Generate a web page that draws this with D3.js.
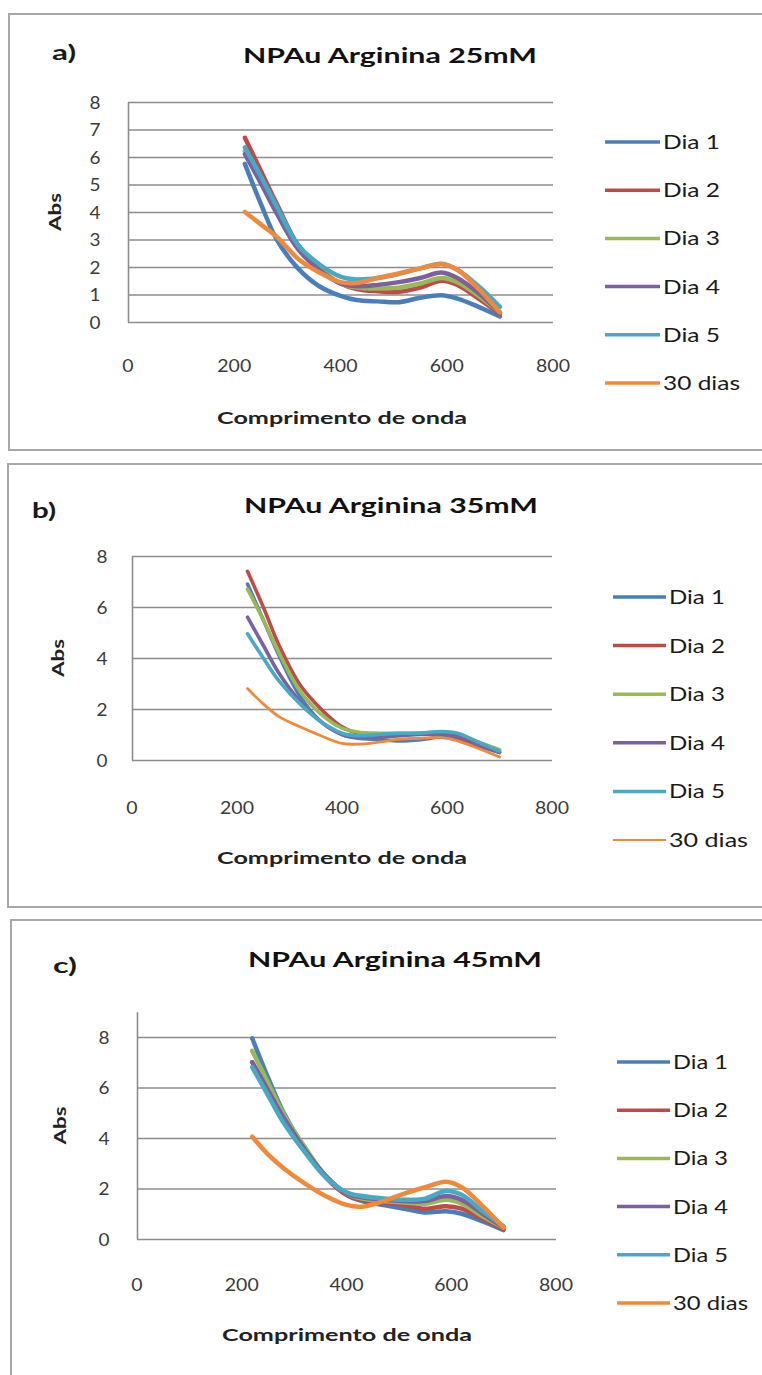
<!DOCTYPE html>
<html>
<head>
<meta charset="utf-8">
<script src="https://cdn.jsdelivr.net/npm/d3@7"></script>
<style>
  body{margin:0;background:#fff;}
  svg{display:block;}
  text{font-family:Lato,"Open Sans",sans-serif;}
</style>
</head>
<body>
<div id="container"></div>
<script>
let w = 762;
let h = 1375;

// shared x values (wavelength, nm) and names
let wavelengths = [220, 250, 280, 320, 360, 400, 430, 470, 510, 550, 590, 620, 660, 700];
let seriesNames = ["Dia 1", "Dia 2", "Dia 3", "Dia 4", "Dia 5", "30 dias"];
let seriesColors = ["#4a7ebb", "#be4b48", "#98b954", "#7d60a0", "#46aac5", "#f08a3a"];
let xTicks = [0, 200, 400, 600, 800];

// a) 25mM
let a_dia1 = [5.75, 4.3, 3.0, 1.95, 1.3, 0.95, 0.8, 0.75, 0.72, 0.88, 0.97, 0.85, 0.55, 0.2];
let a_dia2 = [6.7, 5.5, 4.3, 2.8, 1.95, 1.4, 1.2, 1.12, 1.1, 1.25, 1.5, 1.35, 0.85, 0.3];
let a_dia3 = [6.2, 5.15, 4.05, 2.7, 1.95, 1.4, 1.25, 1.22, 1.25, 1.4, 1.6, 1.45, 0.95, 0.35];
let a_dia4 = [6.1, 5.05, 3.95, 2.65, 1.9, 1.4, 1.3, 1.35, 1.45, 1.6, 1.8, 1.6, 1.05, 0.35];
let a_dia5 = [6.35, 5.3, 4.2, 2.8, 2.1, 1.65, 1.55, 1.6, 1.75, 1.95, 2.12, 1.9, 1.3, 0.55];
let a_dias30 = [4.0, 3.55, 3.1, 2.3, 1.8, 1.45, 1.42, 1.6, 1.77, 1.95, 2.1, 1.9, 1.2, 0.35];

// b) 35mM
let b_dia1 = [6.9, 5.5, 4.1, 2.5, 1.5, 1.0, 0.85, 0.8, 0.75, 0.8, 0.9, 0.85, 0.55, 0.3];
let b_dia2 = [7.4, 6.0, 4.5, 2.95, 2.0, 1.3, 1.05, 1.0, 1.0, 1.05, 1.05, 0.9, 0.6, 0.3];
let b_dia3 = [6.7, 5.5, 4.2, 2.7, 1.8, 1.25, 1.1, 1.05, 1.05, 1.05, 1.1, 1.0, 0.7, 0.4];
let b_dia4 = [5.6, 4.5, 3.4, 2.3, 1.5, 1.0, 0.9, 0.9, 0.95, 1.0, 1.0, 0.95, 0.6, 0.3];
let b_dia5 = [4.95, 4.0, 3.1, 2.2, 1.5, 1.05, 0.95, 1.0, 1.05, 1.05, 1.12, 1.05, 0.7, 0.35];
let b_dias30 = [2.8, 2.2, 1.7, 1.3, 0.95, 0.65, 0.62, 0.7, 0.82, 0.85, 0.88, 0.75, 0.45, 0.12];

// c) 45mM
let c_dia1 = [7.95, 6.4, 5.0, 3.6, 2.5, 1.75, 1.5, 1.35, 1.2, 1.05, 1.1, 1.0, 0.7, 0.35];
let c_dia2 = [7.0, 5.9, 4.8, 3.55, 2.45, 1.75, 1.55, 1.45, 1.35, 1.2, 1.3, 1.2, 0.8, 0.4];
let c_dia3 = [7.45, 6.2, 4.95, 3.65, 2.5, 1.8, 1.6, 1.5, 1.45, 1.4, 1.55, 1.4, 0.9, 0.45];
let c_dia4 = [7.0, 5.9, 4.8, 3.55, 2.5, 1.8, 1.65, 1.55, 1.5, 1.5, 1.7, 1.55, 1.0, 0.45];
let c_dia5 = [6.8, 5.7, 4.6, 3.45, 2.45, 1.85, 1.7, 1.6, 1.55, 1.6, 1.9, 1.75, 1.1, 0.5];
let c_dias30 = [4.05, 3.35, 2.8, 2.2, 1.7, 1.35, 1.28, 1.5, 1.8, 2.05, 2.27, 2.05, 1.3, 0.45];

// layout for each panel (pixels)
let panels = [
  {label: "a)", title: "NPAu Arginina 25mM", series: [a_dia1, a_dia2, a_dia3, a_dia4, a_dia5, a_dias30],
   box: [9, 14, 790, 436], left: 128, right: 553, bottom: 322, unit: 27.5, yMax: 8, yStep: 1,
   labelX: 52, labelY: 60, titleX: 390, titleY: 63, yTickX: 95, xTickY: 372,
   xTitleX: 342, xTitleY: 424, absX: 55, legX: 605, legLen: 55, legY: 142, legDy: 48.2,
   legW: [57, 57, 57, 57, 57, 77], lw: 4.5, lw30: 4.5, legLw: 3.5, legLw30: 3.5},
  {label: "b)", title: "NPAu Arginina 35mM", series: [b_dia1, b_dia2, b_dia3, b_dia4, b_dia5, b_dias30],
   box: [8, 464, 790, 443], left: 132, right: 552, bottom: 760, unit: 25.5, yMax: 8, yStep: 2,
   labelX: 32, labelY: 518, titleX: 391, titleY: 513, yTickX: 102, xTickY: 814,
   xTitleX: 342, xTitleY: 864, absX: 58, legX: 613, legLen: 53, legY: 597, legDy: 48.6,
   legW: [56, 56, 56, 56, 56, 79], lw: 3.6, lw30: 2.8, legLw: 3.5, legLw30: 1.8},
  {label: "c)", title: "NPAu Arginina 45mM", series: [c_dia1, c_dia2, c_dia3, c_dia4, c_dia5, c_dias30],
   box: [11, 920, 790, 500], left: 137, right: 556, bottom: 1239, unit: 25.25, yMax: 9, yStep: 2,
   labelX: 53, labelY: 973, titleX: 395, titleY: 967, yTickX: 104, xTickY: 1291,
   xTitleX: 347, xTitleY: 1341, absX: 60, legX: 617, legLen: 53, legY: 1062, legDy: 48.2,
   legW: [55, 55, 55, 55, 55, 75], lw: 4.5, lw30: 4.5, legLw: 3.5, legLw30: 3.5}
];

let viz = d3.select("#container")
  .append("svg")
    .attr("width", w)
    .attr("height", h)
;

panels.forEach(function(p){
  let g = viz.append("g").classed("panel", true);

  // outer frame
  g.append("rect")
    .attr("x", p.box[0]).attr("y", p.box[1])
    .attr("width", p.box[2]).attr("height", p.box[3])
    .attr("fill", "none").attr("stroke", "#a8a8a8").attr("stroke-width", 2);

  let top = p.bottom - p.yMax * p.unit;
  let xScale = d3.scaleLinear().domain([0, 800]).range([p.left, p.right]);
  let yScale = d3.scaleLinear().domain([0, p.yMax]).range([p.bottom, top]);

  // gridlines + vertical axis
  let yAxis = d3.axisLeft(yScale)
    .tickValues(d3.range(0, p.yMax + 0.001, p.yStep))
    .tickSize(-(p.right - p.left))
    .tickSizeOuter(0)
    .tickFormat("");
  let yAxisGroup = g.append("g").attr("transform", "translate(" + p.left + ",0)").call(yAxis);
  yAxisGroup.selectAll("line").attr("stroke", "#8c8c8c").attr("stroke-width", 1.6);
  yAxisGroup.select(".domain").attr("stroke", "#8c8c8c").attr("stroke-width", 1.6);

  // y tick labels
  g.selectAll(".ytick").data(d3.range(0, p.yMax + 0.001, p.yStep)).enter()
    .append("text").classed("ytick", true)
    .attr("x", p.yTickX)
    .attr("y", d => yScale(d) + 6.5)
    .attr("text-anchor", "middle")
    .attr("font-size", 18)
    .attr("fill", "#3a3a3a")
    .attr("textLength", 11)
    .attr("lengthAdjust", "spacingAndGlyphs")
    .text(d => d);

  // x tick labels
  g.selectAll(".xtick").data(xTicks).enter()
    .append("text").classed("xtick", true)
    .attr("x", d => xScale(d))
    .attr("y", p.xTickY)
    .attr("text-anchor", "middle")
    .attr("font-size", 18)
    .attr("fill", "#3a3a3a")
    .attr("textLength", d => String(d).length * 11.3)
    .attr("lengthAdjust", "spacingAndGlyphs")
    .text(d => d);

  // lines
  let line = d3.line()
    .x(d => xScale(d[0]))
    .y(d => yScale(d[1]))
    .curve(d3.curveCatmullRom.alpha(0.5));

  p.series.forEach(function(vals, i){
    g.append("path")
      .datum(wavelengths.map((wl, j) => [wl, vals[j]]))
      .attr("d", line)
      .attr("fill", "none")
      .attr("stroke", seriesColors[i])
      .attr("stroke-width", i == 5 ? p.lw30 : p.lw)
      .attr("stroke-linecap", "round")
      .attr("stroke-linejoin", "round");
  });

  // texts
  g.append("text")
    .attr("x", p.labelX).attr("y", p.labelY)
    .attr("font-size", 20).attr("font-weight", "bold").attr("fill", "#1a1a1a")
    .attr("textLength", 24).attr("lengthAdjust", "spacingAndGlyphs")
    .text(p.label);

  g.append("text")
    .attr("x", p.titleX).attr("y", p.titleY)
    .attr("text-anchor", "middle")
    .attr("font-size", 21).attr("font-weight", "bold").attr("fill", "#111")
    .attr("textLength", 294).attr("lengthAdjust", "spacingAndGlyphs")
    .text(p.title);

  g.append("text")
    .attr("x", p.xTitleX).attr("y", p.xTitleY)
    .attr("text-anchor", "middle")
    .attr("font-size", 17).attr("font-weight", "bold").attr("fill", "#222")
    .attr("textLength", 250).attr("lengthAdjust", "spacingAndGlyphs")
    .text("Comprimento de onda");

  let absY = (p.bottom + top) / 2;
  g.append("text")
    .attr("transform", "translate(" + (p.absX + 6) + "," + absY + ") rotate(-90)")
    .attr("text-anchor", "middle")
    .attr("font-size", 17).attr("font-weight", "bold").attr("fill", "#222")
    .attr("textLength", 38).attr("lengthAdjust", "spacingAndGlyphs")
    .text("Abs");

  // legend
  let leg = g.selectAll(".leg").data(seriesNames).enter()
    .append("g").classed("leg", true)
    .attr("transform", (d, i) => "translate(" + p.legX + "," + (p.legY + i * p.legDy) + ")");
  leg.append("line")
    .attr("x1", 0).attr("x2", p.legLen)
    .attr("stroke", (d, i) => seriesColors[i])
    .attr("stroke-width", (d, i) => i == 5 ? p.legLw30 : p.legLw);
  leg.append("text")
    .attr("x", p.legLen + 3).attr("y", 7)
    .attr("font-size", 19).attr("fill", "#1a1a1a")
    .attr("textLength", (d, i) => p.legW[i]).attr("lengthAdjust", "spacingAndGlyphs")
    .text(d => d);
});
</script>
</body>
</html>
